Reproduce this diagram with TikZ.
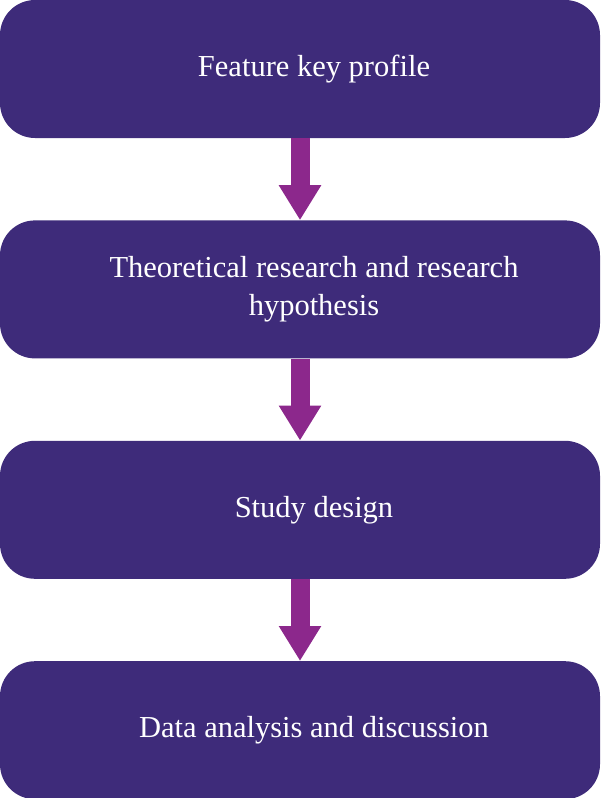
\documentclass[tikz,border=0pt]{standalone}
\usepackage{fontspec}
\setmainfont{Liberation Serif}
\usepackage{xcolor}
\definecolor{indigo}{RGB}{62,43,122}
\definecolor{plum}{RGB}{140,40,140}
\usetikzlibrary{positioning,arrows.meta}
\tikzset{
  stage/.style={rectangle,draw=none,fill=indigo,rounded corners=35pt,minimum width=600pt,minimum height=138pt,inner sep=0pt},
  stagetxt/.style={text=white,font=\fontsize{30.5}{38}\selectfont,align=center,xshift=14pt},
  line/.style={draw=plum,line width=19pt,-{Triangle[width=40pt,length=35pt]}},
}
\begin{document}
\begin{tikzpicture}[x=1pt,y=1pt]
  \useasboundingbox (0,0) rectangle (600,-798);
  \node[stage,label={[stagetxt]center:Feature key profile}] (key) at (300,-69) {};
  \node[stage,below=82pt of key,label={[stagetxt]center:Theoretical research and research\\hypothesis}] (theory) {};
  \node[stage,below=82pt of theory,label={[stagetxt]center:Study design}] (design) {};
  \node[stage,below=82pt of design,label={[stagetxt]center:Data analysis and discussion}] (analysis) {};
  \path[line] (key) -- (theory);
  \path[line] (theory) -- (design);
  \path[line] (design) -- (analysis);
\end{tikzpicture}
\end{document}
